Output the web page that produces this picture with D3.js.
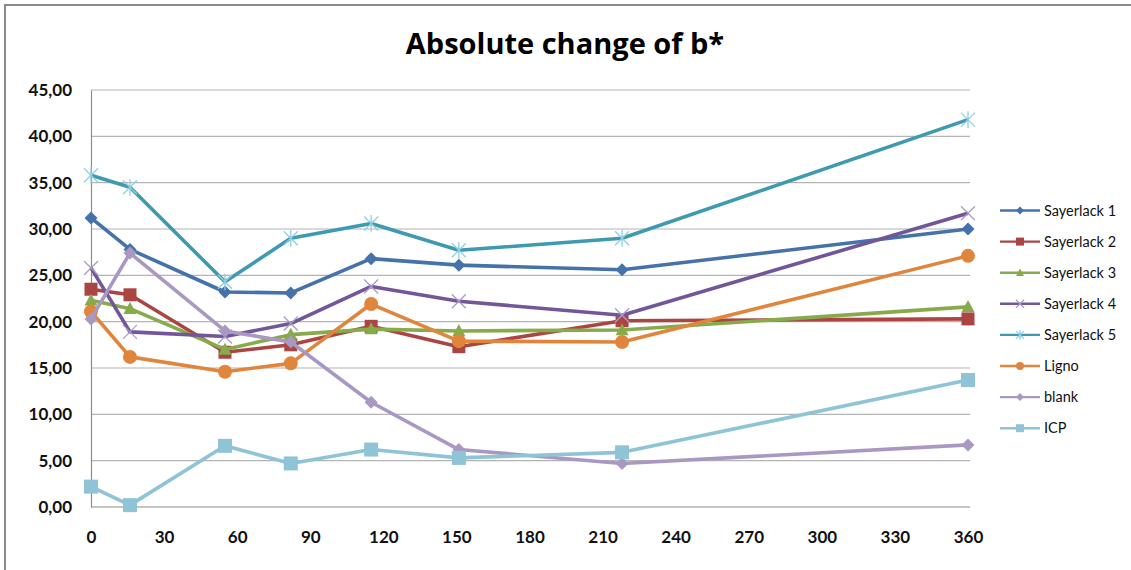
<!DOCTYPE html>
<html>
<head>
<meta charset="utf-8">
<script src="https://cdn.jsdelivr.net/npm/d3@7"></script>
<style>
  html, body { margin: 0; padding: 0; background: #fff; }
  svg { display: block; font-family: Lato, "Open Sans", sans-serif; }
</style>
</head>
<body>
<svg id="chart" width="1131" height="570"></svg>
<script>
// Sampling times (x) and the absolute change of b* for each coating
const times = [0, 16, 55, 82, 115, 151, 218, 360];
const seriesNames = ["Sayerlack 1", "Sayerlack 2", "Sayerlack 3", "Sayerlack 4", "Sayerlack 5", "Ligno", "blank", "ICP"];
const sayerlack1 = [31.2, 27.8, 23.2, 23.1, 26.8, 26.1, 25.6, 30.0];
const sayerlack2 = [23.5, 22.9, 16.7, 17.5, 19.5, 17.3, 20.1, 20.3];
const sayerlack3 = [22.3, 21.4, 17.0, 18.6, 19.2, 19.0, 19.1, 21.6];
const sayerlack4 = [25.8, 18.9, 18.4, 19.8, 23.8, 22.2, 20.7, 31.7];
const sayerlack5 = [35.8, 34.5, 24.3, 29.0, 30.6, 27.7, 29.0, 41.8];
const ligno      = [21.1, 16.2, 14.6, 15.5, 21.9, 17.9, 17.8, 27.1];
const blank      = [20.3, 27.4, 19.0, 17.8, 11.3,  6.2,  4.7,  6.7];
const icp        = [ 2.2,  0.2,  6.6,  4.7,  6.2,  5.3,  5.9, 13.7];
const xTicks = [0, 30, 60, 90, 120, 150, 180, 210, 240, 270, 300, 330, 360];
const yTicks = [0, 5, 10, 15, 20, 25, 30, 35, 40, 45];

const values = [sayerlack1, sayerlack2, sayerlack3, sayerlack4, sayerlack5, ligno, blank, icp];
const lineColors   = ["#4572aa", "#aa4543", "#87aa4b", "#71579a", "#3e9ab0", "#df853c", "#a898c2", "#8fc3d6"];
const markerColors = ["#4572aa", "#aa4543", "#87aa4b", "#a99bc8", "#8fd0e0", "#df853c", "#a898c2", "#8fc3d6"];
const markerKinds  = ["diamond", "square", "triangle", "x", "asterisk", "circle", "diamond", "square"];

const svg = d3.select("#chart");

// outer chart frame
svg.append("rect")
  .attr("x", 5).attr("y", 5).attr("width", 1140).attr("height", 600)
  .attr("fill", "none").attr("stroke", "#8a8a8a").attr("stroke-width", 2);

const plot = { left: 91, right: 968, top: 90, bottom: 507 };
const x = d3.scaleLinear().domain([0, 360]).range([plot.left, plot.right]);
const y = d3.scaleLinear().domain([0, 45]).range([plot.bottom, plot.top]);

// title
svg.append("text")
  .attr("x", 565).attr("y", 54)
  .attr("text-anchor", "middle")
  .attr("font-family", "'Open Sans', sans-serif")
  .attr("font-size", 29).attr("font-weight", "bold").attr("fill", "#000")
  .text("Absolute change of b*");

// horizontal gridlines
svg.append("g")
  .selectAll("line").data(yTicks.filter(d => d > 0)).join("line")
  .attr("x1", plot.left).attr("x2", plot.right + 2)
  .attr("y1", d => y(d)).attr("y2", d => y(d))
  .attr("stroke", "#b4b4b4").attr("stroke-width", 1.2);

// y axis
const yAxis = d3.axisLeft(y).tickValues(yTicks).tickSize(0).tickPadding(19)
  .tickFormat(d => d3.format(".2f")(d).replace(".", ","));
const gy = svg.append("g").attr("transform", `translate(${plot.left},0)`).call(yAxis);
gy.select(".domain").attr("stroke", "#8c8c8c").attr("stroke-width", 1.2);
gy.selectAll("text").attr("font-size", 17).attr("font-weight", "bold")
  .attr("fill", "#111").attr("font-family", "Lato, sans-serif");

// x axis
const xAxis = d3.axisBottom(x).tickValues(xTicks).tickSize(0).tickPadding(24);
const gx = svg.append("g").attr("transform", `translate(0,${plot.bottom})`).call(xAxis);
gx.select(".domain").attr("stroke", "#8c8c8c").attr("stroke-width", 1.2)
  .attr("d", `M${plot.left},0H${plot.right + 2}`);
gx.selectAll("text").attr("font-size", 17).attr("font-weight", "bold")
  .attr("fill", "#111").attr("font-family", "Lato, sans-serif");

// marker shapes, drawn around (0,0)
function drawMarker(g, kind, color, s) {
  const h = s / 2;
  if (kind === "diamond") {
    g.append("path").attr("d", `M0,${-h}L${h},0L0,${h}L${-h},0Z`).attr("fill", color);
  } else if (kind === "square") {
    g.append("rect").attr("x", -h).attr("y", -h).attr("width", s).attr("height", s).attr("fill", color);
  } else if (kind === "triangle") {
    g.append("path").attr("d", `M0,${-h * 1.05}L${h},${h * 0.8}L${-h},${h * 0.8}Z`).attr("fill", color);
  } else if (kind === "circle") {
    g.append("circle").attr("r", h).attr("fill", color);
  } else if (kind === "x") {
    g.append("path").attr("d", `M${-h},${-h}L${h},${h}M${-h},${h}L${h},${-h}`)
      .attr("stroke", color).attr("stroke-width", 1.3).attr("fill", "none");
  } else if (kind === "asterisk") {
    g.append("path").attr("d", `M${-h},${-h}L${h},${h}M${-h},${h}L${h},${-h}M0,${-h * 1.2}L0,${h * 1.2}`)
      .attr("stroke", color).attr("stroke-width", 1.3).attr("fill", "none");
  }
}

const markerSize = [13, 13, 13, 14, 14, 14, 13, 14];
const line = d3.line().x((d, i) => x(times[i])).y(d => y(d));

values.forEach((vals, si) => {
  const g = svg.append("g");
  g.append("path").datum(vals).attr("d", line)
    .attr("fill", "none").attr("stroke", lineColors[si]).attr("stroke-width", 3.6)
    .attr("stroke-linejoin", "round");
  vals.forEach((v, i) => {
    const m = g.append("g").attr("transform", `translate(${x(times[i])},${y(v)})`);
    drawMarker(m, markerKinds[si], markerColors[si], markerSize[si]);
  });
});

// legend
const legend = svg.append("g");
seriesNames.forEach((name, i) => {
  const ly = 210.5 + i * 31.1;
  legend.append("line").attr("x1", 1000).attr("x2", 1040).attr("y1", ly).attr("y2", ly)
    .attr("stroke", lineColors[i]).attr("stroke-width", 2.4);
  const m = legend.append("g").attr("transform", `translate(1020,${ly})`);
  drawMarker(m, markerKinds[i], markerColors[i], 8);
  legend.append("text").attr("x", 1044).attr("y", ly).attr("dy", "0.35em")
    .attr("font-size", 14.5).attr("fill", "#111").text(name);
});
</script>
</body>
</html>
